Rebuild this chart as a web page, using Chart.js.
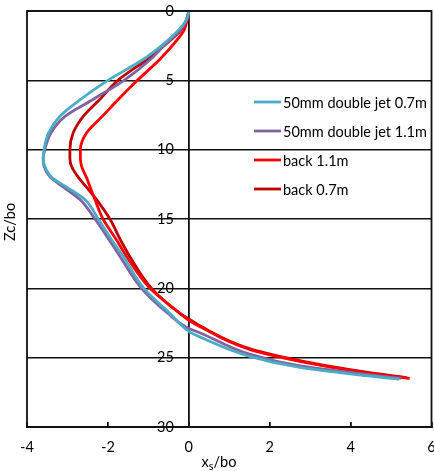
<!DOCTYPE html>
<html>
<head>
<meta charset="utf-8">
<script src="https://cdn.jsdelivr.net/npm/chart.js@4/dist/chart.umd.min.js"></script>
<style>
  html, body { margin: 0; padding: 0; background: #fff; }
  #wrap { width: 434px; height: 471px; }
</style>
</head>
<body>
<div id="wrap"><canvas id="profile_chart" width="434" height="471"></canvas></div>
<script>
// readings: depth Zc/bo and horizontal offset xs/bo per run
var seriesLabels = ['50mm double jet 0.7m', '50mm double jet 1.1m', 'back 1.1m', 'back 0.7m'];

var jet07Z = [0, 0.65, 1.4, 2.3, 3.5, 5, 6.4, 7.6, 8.8, 10, 10.6, 11.2, 12, 12.7, 13.6, 15, 16.5, 17.7, 20, 21.8, 23.1, 23.5, 24.9, 25.7, 26.3, 26.55];
var jet07X = [0, -0.06, -0.26, -0.59, -1.13, -2.0, -2.69, -3.19, -3.47, -3.58, -3.6, -3.56, -3.39, -3.02, -2.57, -2.24, -1.91, -1.62, -1.11, -0.47, 0, 0.27, 1.5, 2.75, 4.39, 5.2];

var jet11Z = [0, 0.65, 1.4, 2.3, 3.5, 5, 6.4, 7.6, 8.8, 10, 10.6, 11.2, 12, 12.7, 13.6, 15, 16.5, 17.7, 20, 21.8, 22.9, 23.2, 24.75, 25.6, 26.2, 26.5];
var jet11X = [0, -0.06, -0.22, -0.55, -0.95, -1.6, -2.38, -3.06, -3.41, -3.56, -3.6, -3.58, -3.42, -3.1, -2.69, -2.32, -1.97, -1.7, -1.17, -0.52, 0, 0.27, 1.5, 2.75, 4.39, 5.25];

var back11Z = [0, 0.65, 1.4, 2.3, 3.5, 5, 6.4, 7.6, 8.8, 10, 10.6, 11.2, 12, 12.7, 13.6, 15, 16.5, 17.7, 20, 21.8, 22.3, 22.75, 24.4, 25.3, 26.1, 26.5];
var back11X = [0, -0.04, -0.12, -0.35, -0.72, -1.27, -1.75, -2.14, -2.53, -2.68, -2.68, -2.65, -2.53, -2.44, -2.32, -2.12, -1.79, -1.54, -0.96, -0.22, 0, 0.27, 1.5, 2.8, 4.39, 5.46];

var back07Z = [0, 0.65, 1.4, 2.3, 3.5, 5, 6.4, 7.6, 8.8, 10, 10.6, 11.2, 12, 12.7, 13.6, 15, 16.5, 17.7, 20, 21.8, 22.2, 22.7, 24.35, 25.25, 26.05, 26.45];
var back07X = [0, -0.06, -0.2, -0.53, -1.04, -1.75, -2.21, -2.61, -2.86, -2.94, -2.94, -2.9, -2.73, -2.53, -2.28, -1.95, -1.69, -1.46, -0.92, -0.22, 0, 0.27, 1.5, 2.8, 4.39, 5.4];

var xTicks = [-4, -2, 0, 2, 4, 6];
var yTicks = [0, 5, 10, 15, 20, 25, 30];

var FONT = 'Lato';
var INK = '#111';

function toPoints(zs, xs) {
    return xs.map(function (x, i) { return { x: x, y: zs[i] }; });
}

// depth is the independent variable, so interpolate along y
function line(label, pts, color) {
    return {
        label: label,
        data: pts,
        indexAxis: 'y',
        borderColor: color,
        backgroundColor: color,
        borderWidth: 2.8,
        pointRadius: 0,
        showLine: true,
        fill: false,
        cubicInterpolationMode: 'monotone'
    };
}

// frame round the plot area + axis titles + legend inside the plot
var decorations = {
    id: 'decorations',
    afterDraw: function (chart) {
        var c = chart.ctx;
        var a = chart.chartArea;
        c.save();
        c.strokeStyle = INK;
        c.lineWidth = 1.8;
        c.strokeRect(a.left, a.top, a.right - a.left, a.bottom - a.top);

        c.fillStyle = '#000';
        c.textBaseline = 'alphabetic';

        // x title with subscript s
        var big = '14.5px ' + FONT, small = '11px ' + FONT;
        c.font = big;
        var w1 = c.measureText('x').width, w3 = c.measureText('/bo').width;
        c.font = small;
        var w2 = c.measureText('s').width;
        var x0 = 219 - (w1 + w2 + w3) / 2, base = 467;
        c.font = big;
        c.textAlign = 'left';
        c.fillText('x', x0, base);
        c.font = small;
        c.fillText('s', x0 + w1, base + 3);
        c.font = big;
        c.fillText('/bo', x0 + w1 + w2, base);

        // y title
        c.save();
        c.translate(15, 222);
        c.rotate(-Math.PI / 2);
        c.textAlign = 'center';
        c.fillText('Zc/bo', 0, 0);
        c.restore();

        // legend
        c.font = big;
        c.textBaseline = 'middle';
        chart.data.datasets.forEach(function (ds, i) {
            var y = 102 + i * 29;
            c.strokeStyle = ds.borderColor;
            c.lineWidth = 2.8;
            c.beginPath();
            c.moveTo(254, y);
            c.lineTo(281, y);
            c.stroke();
            c.fillText(ds.label, 283, y + 1);
        });
        c.restore();
    }
};

var ctx = document.getElementById('profile_chart').getContext('2d');

var profileChart = new Chart(ctx, {
    type: 'scatter',
    data: {
        datasets: [
            line(seriesLabels[0], toPoints(jet07Z, jet07X), '#4bacc6'),
            line(seriesLabels[1], toPoints(jet11Z, jet11X), '#8064a2'),
            line(seriesLabels[2], toPoints(back11Z, back11X), '#ff0000'),
            line(seriesLabels[3], toPoints(back07Z, back07X), '#c00000')
        ]
    },
    options: {
        responsive: false,
        animation: false,
        devicePixelRatio: 1,
        indexAxis: 'y',
        layout: { padding: { left: 27, right: 2.5, top: 11, bottom: 0 } },
        plugins: {
            legend: { display: false },
            tooltip: { enabled: false }
        },
        scales: {
            x: {
                type: 'linear',
                position: 'bottom',
                min: xTicks[0],
                max: xTicks[xTicks.length - 1],
                afterBuildTicks: function (s) {
                    s.ticks = xTicks.map(function (v) { return { value: v }; });
                },
                afterFit: function (s) {
                    s.height = 44;
                    s.paddingLeft = 0;
                    s.paddingRight = 0;
                },
                grid: {
                    drawOnChartArea: true,
                    drawTicks: true,
                    tickLength: -5,
                    // only the x = 0 line runs through the plot
                    color: function (c) { return c.tick && c.tick.value === 0 ? INK : 'rgba(0,0,0,0)'; },
                    tickColor: INK,
                    lineWidth: 1.8
                },
                border: { display: true, color: INK, width: 1.8 },
                ticks: {
                    padding: 17,
                    color: '#000',
                    font: { family: FONT, size: 14.5 },
                    maxRotation: 0,
                    autoSkip: false
                }
            },
            y: {
                type: 'linear',
                // labels sit just left of the x = 0 line
                position: { x: -0.37 },
                reverse: true,
                min: yTicks[0],
                max: yTicks[yTicks.length - 1],
                afterBuildTicks: function (s) {
                    s.ticks = yTicks.map(function (v) { return { value: v }; });
                },
                afterFit: function (s) {
                    s.paddingTop = 0;
                    s.paddingBottom = 0;
                },
                grid: {
                    drawTicks: false,
                    color: INK,
                    lineWidth: 1.5
                },
                border: { display: false },
                ticks: {
                    color: '#000',
                    font: { family: FONT, size: 14.5 },
                    autoSkip: false
                }
            }
        }
    },
    plugins: [decorations]
});
</script>
</body>
</html>
